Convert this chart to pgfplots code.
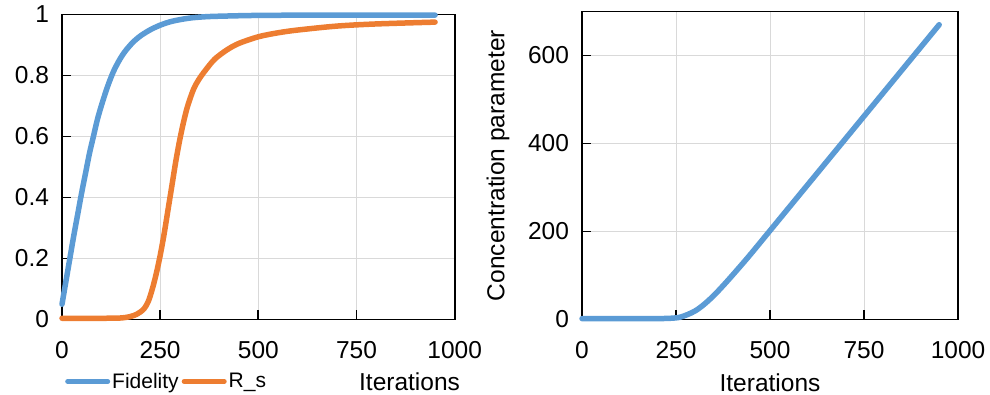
\documentclass[border=0pt]{standalone}
\usepackage{fontspec}
\setmainfont{Liberation Sans}
\usepackage{pgfplots}
\pgfplotsset{compat=1.18}
\definecolor{cblue}{HTML}{5B9BD5}
\definecolor{corange}{HTML}{ED7D31}
\definecolor{cgrid}{HTML}{D9D9D9}
\newcommand{\bigf}{\fontsize{24.5}{29}\selectfont}
\pgfplotsset{
  myaxis/.style={
    scale only axis,
    /pgf/number format/assume math mode=true,
    /pgf/number format/1000 sep={},
    axis line style={line width=1.6pt, black},
    tick align=inside,
    tick pos=left,
    major tick length=9pt,
    every tick/.style={black, line width=1.8pt},
    grid=major,
    major grid style={cgrid, line width=1pt},
    xmin=0, xmax=1000,
    xtick={0,250,500,750,1000},
    tick label style={font=\bigf},
    label style={font=\bigf},
    xticklabel style={yshift=-18pt},
    yticklabel style={xshift=-9.5pt},
    clip=false,
  }
}
\begin{document}
\begin{tikzpicture}
\path[use as bounding box] (-62pt,-75.5pt) rectangle (928pt,319.5pt);
\begin{axis}[myaxis,
  at={(0pt,0pt)}, anchor=south west,
  width=392.7pt, height=305pt,
  ymin=0, ymax=1,
  ytick={0,0.2,0.4,0.6,0.8,1},
  xlabel={Iterations},
  xlabel style={at={(axis description cs:0.885,-0.203)}, anchor=center, inner sep=0pt},
  legend columns=2,
  legend style={draw=none, fill=none, at={(axis description cs:0.0,-0.203)}, anchor=west,
    font=\fontsize{21}{25}\selectfont,
    /tikz/every even column/.append style={column sep=1pt}},
  legend image code/.code={\draw[#1, line width=5pt] (0pt,0pt) -- (40pt,0pt);},
]
\addplot[cblue, line width=5.5pt, smooth, line cap=round] coordinates {
(0,0.05) (10,0.125) (20,0.20) (30,0.275) (40,0.345) (50,0.415) (60,0.48) (70,0.545)
(80,0.60) (90,0.655) (100,0.70) (115,0.76) (130,0.81) (145,0.848) (160,0.878)
(180,0.908) (200,0.930) (225,0.950) (250,0.965) (275,0.976) (300,0.983) (330,0.989)
(370,0.993) (420,0.995) (500,0.997) (650,0.998) (800,0.998) (950,0.998)
};
\addlegendentry{Fidelity}
\addplot[corange, line width=5.5pt, smooth, line cap=round] coordinates {
(0,0.004) (100,0.004) (150,0.005) (175,0.01) (190,0.017) (200,0.025) (210,0.037)
(220,0.06) (230,0.10) (240,0.15) (250,0.21) (260,0.28) (270,0.36) (280,0.44)
(290,0.52) (300,0.59) (310,0.65) (320,0.70) (335,0.755) (350,0.79) (370,0.825)
(390,0.855) (420,0.884) (450,0.905) (500,0.927) (550,0.940) (600,0.949) (700,0.962)
(800,0.969) (950,0.975)
};
\addlegendentry{R\_s}
\end{axis}
\begin{axis}[myaxis,
  at={(520pt,0pt)}, anchor=south west,
  width=376pt, height=308pt,
  ymin=0, ymax=700,
  ytick={0,200,400,600},
  xlabel={Iterations},
  xlabel style={at={(axis description cs:0.5,-0.2045)}, anchor=center, inner sep=0pt},
  ylabel={Concentration parameter},
  ylabel style={at={(axis description cs:-0.2234,0.5)}, anchor=center, inner sep=0pt},
]
\addplot[cblue, line width=5.5pt, smooth, line cap=round] coordinates {
(0,2) (100,2) (200,2) (240,3) (260,5) (280,11) (300,19) (320,31) (350,54) (385,86)
(420,120) (450,150) (500,202) (600,306) (700,410) (800,514) (900,618) (950,670)
};
\end{axis}
\end{tikzpicture}
\end{document}
